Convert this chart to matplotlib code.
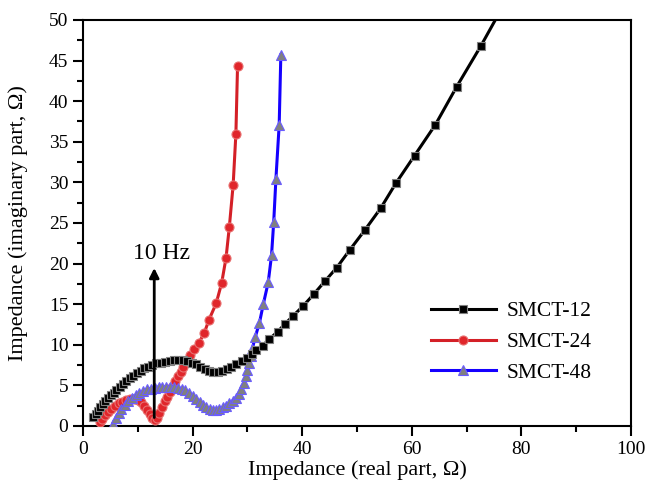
import matplotlib
matplotlib.use('Agg')
import matplotlib.pyplot as plt

plt.rcParams['font.family'] = ['Liberation Serif', 'DejaVu Serif']

# SMCT-12 (negro, cuadrados)
x12 = [1.9, 2.3, 2.7, 3.1, 3.6, 4.1, 4.6, 5.1, 5.6, 6.1, 6.7, 7.3, 7.9, 8.5, 9.1,
       9.8, 10.5, 11.2, 11.9, 12.6, 13.4, 14.2, 15.0, 15.8, 16.6, 17.4, 18.2, 19.0,
       19.8, 20.6, 21.4, 22.2, 23.0, 23.8, 24.6, 25.4, 26.2, 27.0, 28.0, 29.0, 30.0,
       30.8, 31.6, 32.8, 34.0, 35.5, 36.9, 38.4, 40.2, 42.2, 44.1, 46.3, 48.7, 51.4,
       54.3, 57.1, 60.5, 64.3, 68.2, 72.6, 76.8]
y12 = [1.1, 1.5, 1.9, 2.3, 2.7, 3.1, 3.5, 3.8, 4.1, 4.4, 4.8, 5.2, 5.5, 5.9, 6.2,
       6.5, 6.8, 7.1, 7.3, 7.5, 7.7, 7.8, 7.9, 8.0, 8.1, 8.1, 8.1, 8.0,
       7.8, 7.6, 7.3, 7.0, 6.8, 6.7, 6.7, 6.8, 7.0, 7.3, 7.6, 8.0, 8.4,
       8.9, 9.4, 9.9, 10.7, 11.6, 12.6, 13.6, 14.8, 16.3, 17.8, 19.5, 21.7, 24.1,
       26.8, 29.9, 33.3, 37.1, 41.8, 46.8, 51.9]

# SMCT-24 (rojo, círculos)
x24 = [3.1, 3.5, 4.0, 4.6, 5.2, 5.8, 6.5, 7.2, 7.9, 8.6, 9.3, 10.0, 10.6, 11.2,
       11.7, 12.2, 12.6, 13.1, 13.5, 13.9, 14.4, 14.9, 15.3, 15.8, 16.2, 16.8,
       17.4, 17.9, 18.3, 18.9, 19.5, 20.3, 21.1, 22.1, 23.0, 24.3, 25.3, 26.1,
       26.7, 27.4, 27.9, 28.2]
y24 = [0.5, 0.9, 1.3, 1.7, 2.1, 2.5, 2.8, 3.0, 3.2, 3.3, 3.3, 3.2, 2.9, 2.5,
       2.0, 1.5, 1.0, 0.7, 1.0, 1.6, 2.4, 3.1, 3.6, 4.2, 4.8, 5.5,
       6.1, 6.7, 7.3, 8.0, 8.7, 9.5, 10.2, 11.4, 13.1, 15.1, 17.6, 20.7,
       24.5, 29.7, 36.0, 44.3]

# SMCT-48 (azul, triángulos)
x48 = [5.5, 6.0, 6.5, 7.0, 7.6, 8.2, 8.9, 9.6, 10.3, 11.0, 11.7, 12.4, 13.1, 13.8,
       14.5, 15.2, 15.9, 16.6, 17.3, 18.0, 18.7, 19.4, 20.1, 20.7, 21.3, 21.9,
       22.5, 23.1, 23.7, 24.3, 24.9, 25.5, 26.1, 26.7, 27.3, 27.9, 28.4, 28.9,
       29.3, 29.7, 30.0, 30.3, 30.6, 30.9, 31.4, 32.2, 32.9, 33.8, 34.4, 34.8,
       35.2, 35.8, 36.1]
y48 = [0.3, 1.0, 1.6, 2.1, 2.6, 3.1, 3.5, 3.8, 4.1, 4.3, 4.5, 4.6, 4.7, 4.8,
       4.8, 4.8, 4.8, 4.8, 4.7, 4.6, 4.4, 4.1, 3.7, 3.3, 2.9, 2.6,
       2.3, 2.1, 2.0, 2.0, 2.1, 2.3, 2.5, 2.8, 3.1, 3.5, 4.0, 4.6,
       5.3, 6.1, 6.9, 7.7, 8.6, 9.5, 10.9, 12.7, 15.0, 17.7, 21.0, 25.1,
       30.4, 37.1, 45.7]

fig = plt.figure(figsize=(6.51, 4.91), dpi=100)
ax = fig.add_axes([0.1275, 0.1324, 0.8418, 0.8269])

ax.plot(x12, y12, color='black', lw=2.2, marker='s', ms=6,
        mfc='black', mec='#808080', mew=0.8, label='SMCT-12', zorder=4)
ax.plot(x24, y24, color='#d42027', lw=2.2, marker='o', ms=6.5,
        mfc='#e0262b', mec='#e87070', mew=0.8, label='SMCT-24', zorder=3)
ax.plot(x48, y48, color='#1500ff', lw=2.2, marker='^', ms=7,
        mfc='#808080', mec='#6a5cff', mew=0.8, label='SMCT-48', zorder=3)

# Flecha de 10 Hz
ax.annotate('', xy=(13.0, 19.8), xytext=(13.0, 0.7),
            arrowprops=dict(arrowstyle='-|>', color='black', lw=2,
                            mutation_scale=14), zorder=5)
ax.text(14.4, 21.2, '10 Hz', fontsize=17, ha='center', va='center')

ax.set_xlim(0, 100)
ax.set_ylim(0, 50)
ax.set_xticks([0, 20, 40, 60, 80, 100])
ax.set_xticks(range(10, 100, 20), minor=True)
ax.set_yticks(range(0, 51, 5))
ax.set_yticks([2.5 + 5 * i for i in range(10)], minor=True)
ax.tick_params(which='major', direction='out', length=7, width=1.5, labelsize=14)
ax.tick_params(which='minor', direction='out', length=4, width=1.5)
for s in ax.spines.values():
    s.set_linewidth(1.5)

ax.set_xlabel('Impedance (real part, Ω)', fontsize=16, labelpad=2)
ax.set_ylabel('Impedance (imaginary part, Ω)', fontsize=16)
ax.yaxis.set_label_coords(-0.1, 0.5)

ax.legend(loc='upper left', bbox_to_anchor=(0.6, 0.355), frameon=False,
          fontsize=15.5, handlelength=3, labelspacing=0.5, handletextpad=0.5)

fig.savefig('out.png', dpi=100)
